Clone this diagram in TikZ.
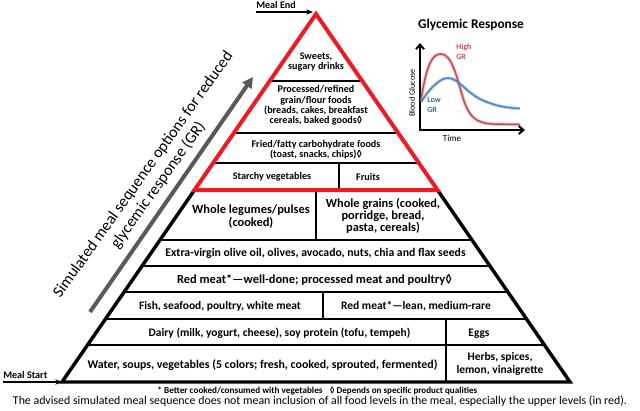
\documentclass[tikz,border=0pt]{standalone}
\usepackage{fontspec}
\setmainfont{Carlito}
\usepackage{tikz}
\usetikzlibrary{arrows.meta}

\definecolor{pyrRed}{RGB}{237,28,36}
\definecolor{seqGray}{RGB}{89,89,89}
\definecolor{grRed}{RGB}{192,80,77}
\definecolor{grBlue}{RGB}{79,129,189}
\definecolor{lowBlue}{RGB}{70,100,140}

\newcommand{\fsBig}{\fontsize{9.3}{9.2}\selectfont}
\newcommand{\fsMid}{\fontsize{8.6}{9.2}\selectfont}
\newcommand{\fsTop}{\fontsize{7.6}{7.7}\selectfont}
\newcommand{\diam}{◊}

\tikzset{
  food/.style={inner sep=0pt, align=center, font=\bfseries},
  row/.style={line width=1.2pt},
  outline/.style={line width=2.6pt, line join=miter},
}

\begin{document}
\begin{tikzpicture}[x=0.75pt,y=0.75pt,yscale=-1,xscale=1]
\useasboundingbox (0,0) rectangle (640,411);

% Corners
\coordinate (apex) at (316,14);
\coordinate (redL) at (194.5,190);
\coordinate (redR) at (437.5,190);
\coordinate (baseL) at (62,382);
\coordinate (baseR) at (570,382);

%Straight Lines (rows of the pyramid)
\draw [row]   (269.8,81) -- (362.2,81) ;
\draw [row]   (233.9,133) -- (398.1,133) ;
\draw [row]   (213.2,163) -- (418.8,163) ;
\draw [row]   (160.0,240) -- (472.0,240) ;
\draw [row]   (142.1,266) -- (489.9,266) ;
\draw [row]   (124.1,292) -- (507.9,292) ;
\draw [row]   (105.5,319) -- (526.5,319) ;
\draw [row]   (87.5,345) -- (544.5,345) ;
%Straight Lines (cell dividers)
\draw [row]   (339,163) -- (339,190) ;
\draw [row]   (316,190) -- (316,240) ;
\draw [row]   (323,292) -- (323,319) ;
\draw [row]   (446,319) -- (446,382) ;

%Shape: lower part of the pyramid
\draw [outline]   (redL) -- (baseL) -- (baseR) -- (redR) ;
%Shape: Triangle (upper levels)
\draw [outline, color=pyrRed, line width=3pt]   (apex) -- (redL) -- (redR) -- cycle ;

%Straight Lines (meal start / meal end)
\coordinate (startTail) at (3,382);
\coordinate (endTail) at (256,12);
\coordinate (endTip) at (313,12);
\draw [line width=1pt, -{Stealth[length=5pt,width=4pt]}]   (startTail) -- (baseL) ;
\draw [line width=1pt, -{Stealth[length=5pt,width=4pt]}]   (endTail) -- (endTip) ;

%Straight Lines (sequence arrow)
\coordinate (seqTail) at (90,312);
\coordinate (seqTip) at (253,77);
\draw [color=seqGray, line width=3pt, -{Triangle[length=8pt,width=8pt]}]   (seqTail) -- (seqTip) ;

%Glycemic response plot
\coordinate (gTop) at (420,43);
\coordinate (gOrig) at (420,130);
\coordinate (gRight) at (525,130);
\draw [line width=1.5pt, {Straight Barb[length=3.5pt,width=6pt]}-{Straight Barb[length=3.5pt,width=6pt]}]   (gTop) -- (gOrig) -- (gRight) ;
%Curve Lines
\draw [color=grRed, opacity=0.35, line width=2.6pt]   (421,100) .. controls (427,62) and (433,54) .. (441,54) .. controls (452,54) and (457,78) .. (463,98) .. controls (469,117) and (476,123) .. (492,124) -- (520,124.5) ;
\draw [color=grRed, line width=1.1pt]   (421,100) .. controls (427,62) and (433,54) .. (441,54) .. controls (452,54) and (457,78) .. (463,98) .. controls (469,117) and (476,123) .. (492,124) -- (520,124.5) ;
\draw [color=grBlue, opacity=0.35, line width=2.6pt]   (421,102) .. controls (430,88) and (440,78) .. (448,78) .. controls (458,78) and (466,92) .. (480,99) .. controls (492,105) and (505,108) .. (520,108.5) ;
\draw [color=grBlue, line width=1.1pt]   (421,102) .. controls (430,88) and (440,78) .. (448,78) .. controls (458,78) and (466,92) .. (480,99) .. controls (492,105) and (505,108) .. (520,108.5) ;

% Text Node
\node [food, font=\bfseries\fsTop] (sweets) at (316,62) {Sweets,\\sugary drinks};
% Text Node
\node [food, font=\bfseries\fsTop] (refined) at (316,105.5) {Processed/refined\\grain/flour foods\\(breads, cakes, breakfast\\cereals, baked goods\diam};
% Text Node
\node [food, font=\bfseries\fsTop] (fried) at (316,150) {Fried/fatty carbohydrate foods\\(toast, snacks, chips)\diam};
% Text Node
\node [food, font=\bfseries\fsTop] (starchy) at (272,176.5) {Starchy vegetables};
% Text Node
\node [food, font=\bfseries\fsTop] (fruits) at (368,176.5) {Fruits};
% Text Node
\node [food, font=\bfseries\fsBig] (legumes) at (251,216.5) {Whole legumes/pulses\\(cooked)};
% Text Node
\node [food, font=\bfseries\fsBig] (grains) at (383,216) {Whole grains (cooked,\\porridge, bread,\\pasta, cereals)};
% Text Node
\node [food, font=\bfseries\fontsize{8.8}{9}\selectfont] (oils) at (315.5,253) {Extra-virgin olive oil, olives, avocado, nuts, chia and flax seeds};
% Text Node
\node [food, font=\bfseries\fsBig] (redWell) at (314.5,280) {Red meat*—well-done; processed meat and poultry\diam};
% Text Node
\node [food, font=\bfseries\fsMid] (fish) at (220,306.5) {Fish, seafood, poultry, white meat};
% Text Node
\node [food, font=\bfseries\fsMid] (redLean) at (416,306.5) {Red meat*—lean, medium-rare};
% Text Node
\node [food, font=\bfseries\fsMid] (dairy) at (279.5,333.5) {Dairy (milk, yogurt, cheese), soy protein (tofu, tempeh)};
% Text Node
\node [food, font=\bfseries\fsMid] (eggs) at (479,333.5) {Eggs};
% Text Node
\node [food, font=\bfseries\fontsize{8.9}{9}\selectfont] (water) at (262.5,365) {Water, soups, vegetables (5 colors; fresh, cooked, sprouted, fermented)};
% Text Node
\node [food, font=\bfseries\fsMid] (herbs) at (500,364) {Herbs, spices,\\lemon, vinaigrette};

% Text Node
\node [food, font=\bfseries\fontsize{6.9}{7}\selectfont] (noteMeat) at (240,390.5) {* Better cooked/consumed with vegetables};
% Text Node
\node [food, font=\bfseries\fontsize{6.8}{7}\selectfont] (noteDiam) at (403.5,390.5) {\diam\ Depends on specific product qualities};
% Text Node
\node [inner sep=0pt, font=\fontsize{8.9}{9}\selectfont] (caption) at (320,401.5) {The advised simulated meal sequence does not mean inclusion of all food levels in the meal, especially the upper levels (in red).};

% Text Node
\node [anchor=west, food, font=\bfseries\fontsize{7.6}{8}\selectfont] (mealStart) at (3,375) {Meal Start};
% Text Node
\node [anchor=west, food, font=\bfseries\fontsize{7.6}{8}\selectfont] (mealEnd) at (256,5) {Meal End};
% Text Node
\node [inner sep=0pt, align=center, rotate=54.5, font=\fontsize{12}{13.8}\selectfont] (seqText) at (151,180) {Simulated meal sequence options for reduced\\glycemic response (GR)};

% Text Node
\node [food, font=\bfseries\fontsize{10}{10}\selectfont] (grTitle) at (471,25) {Glycemic Response};
% Text Node
\node [inner sep=0pt, rotate=90, font=\fontsize{6.2}{6.2}\selectfont] (glucose) at (412,93) {Blood Glucose};
% Text Node
\node [inner sep=0pt, font=\fontsize{6.8}{6.8}\selectfont] (time) at (452,138) {Time};
% Text Node
\node [anchor=west, inner sep=0pt, align=left, text=grRed, font=\bfseries\fontsize{6}{7.5}\selectfont] (high) at (456,52) {High\\GR};
% Text Node
\node [anchor=west, inner sep=0pt, align=left, text=lowBlue, font=\bfseries\fontsize{6}{7.5}\selectfont] (low) at (427,105) {Low\\GR};

\end{tikzpicture}
\end{document}
